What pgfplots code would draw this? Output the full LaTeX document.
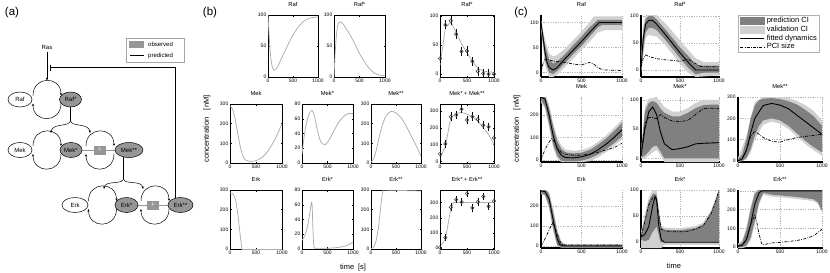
\documentclass[border=0pt]{standalone}
\usepackage{fontspec}
\setmainfont{Liberation Sans}
\usepackage{pgfplots}
\pgfplotsset{compat=1.18}
\usetikzlibrary{arrows.meta}

\definecolor{bline}{RGB}{172,172,172}
\definecolor{pci}{RGB}{128,128,128}
\definecolor{vci}{RGB}{208,208,208}
\definecolor{obs}{RGB}{150,150,150}
\definecolor{mk}{RGB}{70,70,70}

\pgfplotsset{
  common/.style={scale only axis, anchor=north west, xmin=0, xmax=1000,
    xtick={0,500,1000}, scaled ticks=false,
    /pgf/number format/assume math mode=true, /pgf/number format/1000 sep={},
    tick label style={font=\fontsize{5}{6}\selectfont},
    xticklabel style={inner sep=1.5pt},
    yticklabel style={inner sep=1.5pt},
    title style={font=\fontsize{5.8}{6}\selectfont, inner sep=2pt},
    major tick length=1.5pt, tick align=inside},
  bst/.style={common, axis line style={line width=0.6pt}, tick style={black, line width=0.4pt}},
  cst/.style={common, axis lines=left, x axis line style={-}, y axis line style={-},
    axis line style={line width=1.1pt}, grid=major,
    major grid style={dash pattern=on 1.2pt off 1.2pt, gray!60, line width=0.3pt},
    tick style={black, line width=0.4pt}},
  model/.style={bline, line width=0.75pt, smooth, tension=0.45},
  dat/.style={only marks, mark=o, mark size=1.7pt, mark options={mk, line width=0.6pt},
    error bars/.cd, y dir=both, y fixed=#1, error mark=none,
    error bar style={black, line width=0.6pt}},
  fit/.style={black, line width=0.9pt, forget plot},
  pcis/.style={black, line width=0.7pt, dash pattern=on 3pt off 1.3pt on 0.8pt off 1.3pt, forget plot},
  pband/.style={fill=pci, draw=none, forget plot},
  vband/.style={fill=vci, draw=none, forget plot},
}

\newcommand{\cyc}[2]{%
  \begin{scope}[shift={(#1,#2)}]
    \draw[line width=0.5pt, -{Stealth[length=2.6pt,width=2.2pt]}] (-14,-4) .. controls (-14,-24) and (14,-24) .. (14,-4);
    \draw[line width=0.5pt, -{Stealth[length=2.6pt,width=2.2pt]}] (14,4) .. controls (14,24) and (-14,24) .. (-14,4);
  \end{scope}}
\newcommand{\spec}[5]{% x y rx fill text
  \filldraw[fill=#4, draw=black, line width=0.5pt] (#1,#2) ellipse [x radius=#3pt, y radius=7.5pt];
  \node at (#1,#2) {#5};}
\newcommand{\plusbox}[2]{%
  \filldraw[fill=obs, draw=obs] (#1-5.5,#2-4) rectangle (#1+5.5,#2+4);
  \node[white] at (#1,#2) {+};}

\begin{document}
\begin{tikzpicture}
\path[use as bounding box] (0,0) rectangle (830pt,-273pt);

% ---------------- panel (a) ----------------
\begin{scope}[x=1pt, y=-1pt, font=\fontsize{6}{7}\selectfont]
  \node[font=\fontsize{11.5}{12}\selectfont] at (12,13) {(a)};
  % legend
  \draw[gray!70, line width=0.5pt] (126,38) rectangle (184,62);
  \fill[obs] (129,41) rectangle (144,47.5);
  \node[anchor=west, inner sep=1pt] at (147,44.5) {observed};
  \draw[line width=0.6pt] (130,55.5) -- (144,55.5);
  \node[anchor=west, inner sep=1pt] at (147,55.5) {predicted};
  % Ras input and feedback
  \node at (47,47) {Ras};
  \draw[line width=0.5pt, -{Stealth[length=3pt,width=2.4pt]}] (47,52) -- (47,80.5);
  \draw[line width=0.5pt] (175,198) -- (175,67.5) -- (50,67.5);
  \draw[line width=0.6pt] (50,64.5) -- (50,70.5);
  % Raf cycle
  \cyc{47}{99.5}
  \spec{20}{99.5}{12}{white}{Raf}
  \spec{70.5}{99.5}{11}{obs}{Raf*}
  % branch Raf* -> Mek cycles
  \draw[line width=0.5pt] (70.5,107) -- (70.5,121);
  \draw[line width=0.5pt, -{Stealth[length=2.6pt,width=2.2pt]}] (70.5,121) .. controls (69,127) and (52,123) .. (51,133);
  \draw[line width=0.5pt, -{Stealth[length=2.6pt,width=2.2pt]}] (70.5,121) .. controls (72,127) and (89,123) .. (90,133);
  % Mek row
  \cyc{47}{150}
  \cyc{100}{150}
  \draw[obs, line width=1pt] (82,150) -- (115,150);
  \plusbox{100}{150}
  \spec{20}{150}{12}{white}{Mek}
  \spec{71}{150}{11}{obs}{Mek*}
  \spec{129}{150}{14}{obs}{Mek**}
  % branch Mek** -> Erk cycles
  \draw[line width=0.5pt] (123.5,157) -- (123.5,179);
  \draw[line width=0.5pt, -{Stealth[length=2.6pt,width=2.2pt]}] (123.5,179) .. controls (122,185) and (105,180) .. (104,189);
  \draw[line width=0.5pt, -{Stealth[length=2.6pt,width=2.2pt]}] (123.5,179) .. controls (125,185) and (142,180) .. (143,189);
  % Erk row
  \cyc{102.5}{205}
  \cyc{155}{205}
  \draw[obs, line width=1pt] (138,205) -- (168,205);
  \plusbox{153}{205}
  \spec{75}{205}{13}{white}{Erk}
  \spec{126.5}{205}{11.5}{obs}{Erk*}
  \spec{180.5}{205}{12.5}{obs}{Erk**}
\end{scope}

% ---------------- panel (b) ----------------
\node[font=\fontsize{11.5}{12}\selectfont] at (210pt,-13pt) {(b)};
\node[rotate=90, font=\fontsize{7.5}{8}\selectfont] at (207pt,-129pt) {concentration\quad[nM]};
\node[font=\fontsize{7.5}{8}\selectfont] at (353pt,-268pt) {time\enspace[s]};

\begin{axis}[bst, at={(268pt,-15pt)}, width=50pt, height=62pt, ymin=0, ymax=100, ytick={0,50,100}, title={Raf}]
\addplot[model] coordinates {(0,100)(20,70)(50,36)(80,18)(120,11)(160,13)(200,18)(300,35)(400,52)(500,68)(600,80)(700,89)(800,94)(900,96)(1000,97)};
\end{axis}
\begin{axis}[bst, at={(334pt,-15pt)}, width=51pt, height=62pt, ymin=0, ymax=100, ytick={0,50,100}, title={Raf*}]
\addplot[model] coordinates {(0,0)(20,35)(50,70)(80,85)(120,89)(160,87)(200,83)(300,70)(400,55)(500,38)(600,24)(700,13)(800,6)(900,3)(1000,2)};
\end{axis}
\begin{axis}[bst, at={(440pt,-15pt)}, width=54pt, height=62pt, ymin=-5, ymax=102, ytick={0,50,100}, title={Raf*}]
\addplot[bline, line width=0.75pt] coordinates {(0,15)(100,80)(200,90)(300,72)(400,52)(500,37)(600,22)(700,10)(800,5)(900,4)(1000,3)};
\addplot[dat=8] coordinates {(0,27)(100,85)(200,92)(300,69)(400,39)(500,40)(600,22)(700,5)(800,1)(900,0)(1000,0)};
\end{axis}

\begin{axis}[bst, at={(230pt,-104pt)}, width=52pt, height=59pt, ymin=0, ymax=300, ytick={0,100,200,300}, title={Mek}]
\addplot[model] coordinates {(0,290)(50,275)(100,222)(150,150)(200,80)(250,35)(300,15)(400,8)(500,12)(600,25)(700,50)(800,90)(900,140)(1000,200)};
\end{axis}
\begin{axis}[bst, at={(302pt,-104pt)}, width=51pt, height=59pt, ymin=0, ymax=80, ytick={0,20,40,60,80}, title={Mek*}]
\addplot[model] coordinates {(0,12)(50,40)(100,58)(150,68)(200,71)(250,62)(300,45)(350,32)(400,26)(450,25)(500,28)(600,40)(700,53)(800,62)(900,67)(1000,67)};
\end{axis}
\begin{axis}[bst, at={(371pt,-104pt)}, width=50pt, height=59pt, ymin=0, ymax=300, ytick={0,100,200,300}, title={Mek**}]
\addplot[model] coordinates {(0,5)(50,20)(100,60)(200,170)(300,240)(400,262)(500,255)(600,230)(700,190)(800,140)(900,90)(1000,35)};
\end{axis}
\begin{axis}[bst, at={(440pt,-104pt)}, width=54pt, height=59pt, ymin=-8, ymax=340, ytick={0,100,200,300}, title={Mek* + Mek**}]
\addplot[bline, line width=0.75pt] coordinates {(0,20)(100,90)(200,260)(300,285)(400,290)(500,280)(600,265)(700,240)(800,200)(900,160)(1000,100)};
\addplot[dat=25] coordinates {(0,45)(100,105)(200,265)(300,275)(400,310)(500,245)(600,265)(700,250)(800,215)(900,205)(1000,140)};
\end{axis}

\begin{axis}[bst, at={(230pt,-190pt)}, width=52pt, height=59pt, ymin=0, ymax=300, ytick={0,100,200,300}, title={Erk}]
\addplot[bline, line width=0.75pt, smooth, tension=0.3] coordinates {(0,285)(50,280)(100,258)(150,180)(200,62)(230,0)};
\addplot[bline, line width=0.75pt] coordinates {(230,0)(1000,0)};
\end{axis}
\begin{axis}[bst, at={(302pt,-190pt)}, width=51pt, height=59pt, ymin=0, ymax=80, ytick={0,20,40,60,80}, title={Erk*}]
\addplot[bline, line width=0.75pt, smooth, tension=0.3] coordinates {(0,12)(50,17)(100,28)(150,47)(185,63)(200,58)(215,25)(235,2)(300,1)(500,1)(700,2)(850,4)(1000,9)};
\end{axis}
\begin{axis}[bst, at={(371pt,-190pt)}, width=50pt, height=59pt, ymin=0, ymax=300, ytick={0,100,200,300}, title={Erk**}]
\addplot[bline, line width=0.75pt, smooth, tension=0.3] coordinates {(0,2)(50,8)(100,40)(150,110)(200,230)(240,300)};
\addplot[bline, line width=0.75pt] coordinates {(240,300)(1000,295)};
\end{axis}
\begin{axis}[bst, at={(440pt,-190pt)}, width=54pt, height=59pt, ymin=-5, ymax=383, ytick={0,100,200,300}, title={Erk* + Erk**}]
\addplot[bline, line width=0.75pt] coordinates {(0,10)(100,60)(200,260)(250,300)(1000,300)};
\addplot[dat=25] coordinates {(0,5)(100,70)(200,270)(300,320)(400,305)(500,360)(600,265)(700,305)(800,340)(900,275)(1000,310)};
\end{axis}

% ---------------- panel (c) ----------------
\node[font=\fontsize{11.5}{12}\selectfont] at (521pt,-13pt) {(c)};
\node[rotate=90, font=\fontsize{7.5}{8}\selectfont] at (517pt,-129pt) {concentration\quad[nM]};
\node[font=\fontsize{7.5}{8}\selectfont] at (674pt,-266pt) {time};

\begin{axis}[cst, at={(541pt,-15pt)}, width=81pt, height=62pt, ymin=-9, ymax=115, ytick={0,50,100}, title={Raf}]
\addplot[vband] coordinates {(0,105)(50,65)(100,38)(150,32)(200,35)(300,48)(400,65)(500,82)(600,100)(650,112)(1000,112)(1000,85)(800,85)(700,80)(600,62)(500,45)(400,28)(300,12)(200,-5)(150,-9)(100,-9)(50,15)(0,85)};
\addplot[pband] coordinates {(0,100)(50,55)(100,25)(150,18)(200,22)(300,37)(400,55)(500,72)(600,90)(700,105)(750,105)(1000,105)(1000,95)(750,95)(700,90)(600,72)(500,53)(400,37)(300,20)(200,3)(150,-3)(100,0)(50,25)(0,95)};
\addplot[pcis] coordinates {(0,0)(20,15)(50,27)(100,25)(150,23)(200,22)(300,20)(400,17)(500,15)(550,18)(600,20)(650,17)(700,10)(750,6)(800,5)(1000,4)};
\addplot[fit] coordinates {(0,100)(25,70)(50,40)(75,20)(100,10)(150,5)(200,10)(300,28)(400,45)(500,62)(600,80)(700,97)(720,100)(1000,100)};
\end{axis}
\begin{axis}[cst, at={(641pt,-15pt)}, width=78pt, height=62pt, ymin=-13, ymax=102, ytick={0,50,100}, title={Raf*}]
\addplot[vband] coordinates {(0,25)(30,85)(60,102)(100,102)(200,102)(300,88)(400,72)(500,55)(600,38)(700,22)(800,15)(1000,15)(1000,-10)(700,-13)(600,-5)(500,12)(400,30)(300,48)(200,62)(100,65)(60,60)(30,30)(0,-5)};
\addplot[pband] coordinates {(0,15)(30,75)(60,95)(100,100)(150,100)(200,94)(300,77)(400,60)(500,42)(600,27)(700,10)(800,8)(1000,8)(1000,-5)(800,-5)(700,-8)(600,5)(500,22)(400,40)(300,58)(200,74)(150,78)(100,78)(60,70)(30,40)(0,0)};
\addplot[pcis] coordinates {(0,5)(30,22)(60,28)(100,25)(200,21)(300,19)(400,18)(500,16)(600,20)(700,12)(750,7)(800,6)(1000,6)};
\addplot[fit] coordinates {(0,5)(30,60)(60,85)(100,92)(150,92)(200,85)(300,68)(400,50)(500,32)(600,15)(700,0)(1000,0)};
\end{axis}

\begin{axis}[cst, at={(541pt,-97pt)}, width=81pt, height=65pt, ymin=-8, ymax=280, ytick={0,100,200}, title={Mek}]
\addplot[vband] coordinates {(0,292)(50,295)(100,245)(150,165)(200,100)(250,65)(300,48)(400,42)(500,45)(600,57)(700,80)(800,108)(900,142)(1000,180)(1000,92)(900,62)(800,35)(700,12)(600,-5)(500,-8)(300,-8)(250,-8)(200,8)(150,55)(100,145)(50,228)(0,255)};
\addplot[pband] coordinates {(0,285)(50,285)(100,230)(150,150)(200,85)(250,50)(300,35)(400,30)(500,33)(600,45)(700,68)(800,95)(900,128)(1000,165)(1000,105)(900,75)(800,48)(700,25)(600,8)(500,-2)(400,-5)(300,-5)(250,-2)(200,20)(150,70)(100,160)(50,240)(0,265)};
\addplot[pcis] coordinates {(0,0)(30,30)(60,55)(100,80)(130,95)(160,85)(200,55)(250,35)(300,27)(400,22)(500,22)(600,27)(700,35)(800,45)(900,55)(1000,75)};
\addplot[fit] coordinates {(0,280)(50,270)(100,200)(150,110)(200,50)(250,22)(300,12)(400,10)(500,15)(600,25)(700,45)(800,70)(900,100)(1000,135)};
\end{axis}
\begin{axis}[cst, at={(641pt,-97pt)}, width=78pt, height=65pt, ymin=-6, ymax=105, ytick={0,50,100}, title={Mek*}]
\addplot[vband] coordinates {(0,12)(50,88)(100,102)(200,105)(300,88)(400,80)(500,80)(600,86)(700,95)(800,100)(1000,100)(1000,-6)(300,-6)(250,5)(200,15)(100,5)(50,0)(0,0)};
\addplot[pband] coordinates {(0,8)(50,80)(100,95)(150,98)(200,95)(250,85)(300,78)(400,72)(500,72)(600,78)(700,86)(800,91)(900,92)(1000,92)(1000,0)(300,0)(250,12)(200,22)(150,20)(100,12)(50,5)(0,2)};
\addplot[pcis] coordinates {(0,5)(50,60)(100,70)(150,70)(200,68)(250,75)(300,70)(400,64)(500,63)(600,65)(700,75)(800,85)(900,86)(1000,85)};
\addplot[fit] coordinates {(0,5)(50,50)(100,80)(150,88)(200,75)(250,45)(300,25)(400,15)(500,17)(600,20)(700,25)(800,26)(1000,27)};
\end{axis}
\begin{axis}[cst, at={(738pt,-97pt)}, width=84pt, height=65pt, ymin=-5, ymax=300, ytick={0,100,200,300}, title={Mek**},
  legend style={at={(0,1)}, anchor=north west, yshift=82pt, font=\fontsize{7.5}{8.5}\selectfont, draw=gray!60, line width=0.4pt, inner sep=1.5pt, row sep=0.6pt, column sep=1.5pt, nodes={inner sep=0.6pt}}, legend cell align=left]
\addlegendimage{legend image code/.code={\fill[pci] (0pt,-3.4pt) rectangle (24pt,3.4pt);}}
\addlegendentry{prediction CI}
\addlegendimage{legend image code/.code={\fill[vci] (0pt,-3.4pt) rectangle (24pt,3.4pt);}}
\addlegendentry{validation CI}
\addlegendimage{legend image code/.code={\draw[black, line width=1pt] (0pt,0pt) -- (24pt,0pt);}}
\addlegendentry{fitted dynamics}
\addlegendimage{legend image code/.code={\draw[black, line width=0.8pt, dash pattern=on 3pt off 1.3pt on 0.8pt off 1.3pt] (0pt,0pt) -- (24pt,0pt);}}
\addlegendentry{PCI size}
\addplot[vband] coordinates {(0,15)(100,115)(200,275)(300,300)(500,300)(600,295)(700,282)(800,262)(900,235)(1000,190)(1000,25)(900,50)(800,80)(700,115)(600,150)(500,175)(400,185)(300,170)(200,100)(150,40)(100,5)(0,-5)};
\addplot[pband] coordinates {(0,10)(50,30)(100,100)(150,200)(200,260)(250,285)(300,292)(400,295)(500,290)(600,280)(700,265)(800,240)(900,210)(1000,165)(1000,40)(900,65)(800,95)(700,130)(600,165)(500,190)(400,200)(300,190)(250,165)(200,120)(150,55)(100,15)(50,0)(0,-3)};
\addplot[pcis] coordinates {(0,0)(50,10)(100,50)(150,115)(200,140)(250,125)(300,110)(400,92)(500,88)(550,95)(600,100)(700,110)(800,115)(900,120)(1000,125)};
\addplot[fit] coordinates {(0,0)(50,10)(100,50)(150,130)(200,200)(300,260)(400,270)(500,262)(600,245)(700,215)(800,185)(900,155)(1000,125)};
\end{axis}

\begin{axis}[cst, at={(541pt,-190pt)}, width=81pt, height=58pt, ymin=-10, ymax=280, ytick={0,100,200}, title={Erk}]
\addplot[vband] coordinates {(0,290)(100,270)(150,185)(200,85)(250,25)(300,10)(1000,10)(1000,-8)(250,-8)(200,0)(150,75)(100,185)(50,250)(0,260)};
\addplot[pband] coordinates {(0,285)(50,285)(100,260)(150,170)(200,70)(250,15)(300,5)(1000,5)(1000,-5)(300,-5)(250,-5)(200,5)(150,90)(100,200)(50,255)(0,265)};
\addplot[pcis] coordinates {(0,0)(30,20)(60,45)(100,80)(140,115)(170,95)(200,60)(230,25)(260,8)(300,5)(1000,5)};
\addplot[fit] coordinates {(0,275)(50,272)(100,235)(150,130)(200,35)(230,8)(260,2)(300,0)(1000,0)};
\end{axis}
\begin{axis}[cst, at={(641pt,-190pt)}, width=78pt, height=58pt, ymin=-11, ymax=100, ytick={0,50,100}, title={Erk*}]
\addplot[vband] coordinates {(0,20)(50,55)(100,85)(150,100)(200,100)(230,62)(260,32)(300,28)(500,27)(700,31)(800,38)(900,62)(1000,100)(1000,-5)(300,-5)(260,-11)(0,-11)};
\addplot[pband] coordinates {(0,15)(50,45)(100,78)(150,92)(175,93)(200,90)(230,55)(260,28)(300,24)(500,23)(700,27)(800,34)(900,58)(950,78)(1000,100)(1000,0)(300,0)(250,0)(200,30)(150,20)(100,5)(50,2)(0,5)};
\addplot[pcis] coordinates {(0,10)(50,40)(100,72)(150,85)(175,88)(200,83)(230,50)(260,25)(300,22)(400,20)(500,20)(600,21)(700,25)(800,32)(900,55)(950,75)(1000,100)};
\addplot[fit] coordinates {(0,10)(50,15)(100,30)(150,70)(180,87)(200,80)(230,30)(260,5)(300,0)(1000,0)};
\end{axis}
\begin{axis}[cst, at={(738pt,-190pt)}, width=84pt, height=58pt, ymin=-5, ymax=305, ytick={0,100,200,300}, title={Erk**}]
\addplot[vband] coordinates {(0,18)(50,35)(100,105)(150,215)(200,300)(250,308)(1000,308)(1000,185)(950,230)(900,245)(800,252)(600,262)(400,270)(300,280)(250,225)(200,120)(150,35)(100,0)(50,-5)(0,-5)};
\addplot[pband] coordinates {(0,12)(50,25)(100,90)(150,200)(200,285)(250,305)(1000,305)(1000,195)(950,240)(900,255)(800,262)(700,268)(600,272)(500,276)(400,280)(300,290)(250,240)(200,140)(150,50)(100,10)(50,0)(0,-2)};
\addplot[pcis] coordinates {(0,5)(50,10)(100,40)(150,120)(200,170)(225,130)(250,70)(280,20)(300,12)(400,22)(500,25)(600,30)(700,35)(800,45)(900,60)(1000,95)};
\addplot[fit] coordinates {(0,5)(50,10)(100,40)(150,120)(200,230)(250,290)(280,300)(1000,300)};
\end{axis}
\end{tikzpicture}
\end{document}
